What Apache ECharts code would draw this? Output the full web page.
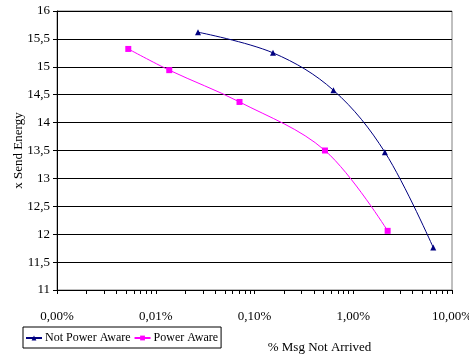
<!DOCTYPE html>
<html>
<head>
<meta charset="utf-8">
<script src="https://cdn.jsdelivr.net/npm/echarts@6/dist/echarts.min.js"></script>
<style>
  html, body { margin: 0; padding: 0; background: #fff; }
  #chart { width: 469px; height: 355px; }
</style>
</head>
<body>
<div id="chart"></div>
<script>
// % of messages not arrived (x) and send energy (y)
const notAwareX = [0.0268, 0.154, 0.63, 2.09, 6.46];
const notAwareY = [15.62, 15.25, 14.58, 13.47, 11.76];
const awareX = [0.00527, 0.0137, 0.0705, 0.517, 2.23];
const awareY = [15.32, 14.94, 14.37, 13.50, 12.06];

// log ticks: decades plus minor 2..9 (as log10 values for the tick axis)
const decades = [0.001, 0.01, 0.1, 1, 10];
const tickValues = [];
decades.forEach(function (d, i) {
  if (i === decades.length - 1) { tickValues.push(Math.log10(d)); return; }
  for (let k = 1; k <= 9; k++) tickValues.push(Math.log10(d * k));
});

const font = "'Liberation Serif', 'DejaVu Serif', serif";

let chart = echarts.init(document.getElementById('chart'));

const option = {
  backgroundColor: '#fff',
  animation: false,
  textStyle: { fontFamily: font, color: '#000' },
  grid: {
    left: 57, right: 17, top: 11, bottom: 65,
    outerBoundsMode: 'none',
    containLabel: false,
    show: true,
    borderColor: '#808080',
    borderWidth: 1
  },
  legend: {
    left: 23,
    top: 327,
    orient: 'horizontal',
    padding: [5, 3, 4, 2],
    itemGap: 3,
    itemWidth: 16,
    itemHeight: 6,
    borderColor: '#000',
    borderWidth: 1,
    textStyle: { fontFamily: font, fontSize: 12, color: '#000', padding: [0, 0, 0, -2] },
    data: ['Not Power Aware', 'Power Aware']
  },
  xAxis: [
    {
      type: 'log',
      logBase: 10,
      min: 0.001,
      max: 10,
      position: 'bottom',
      name: '% Msg Not Arrived',
      nameLocation: 'middle',
      nameGap: 51,
      nameMoveOverlap: false,
      nameTextStyle: { fontFamily: font, fontSize: 13, color: '#000', padding: [0, 0, 0, 130] },
      axisLine: { onZero: false, lineStyle: { color: '#000', width: 1 } },
      axisTick: { show: false },
      axisLabel: {
        fontFamily: font,
        fontSize: 13,
        color: '#000',
        margin: 20,
        formatter: function (v) { return v.toFixed(2).replace('.', ',') + '%'; }
      },
      splitLine: { show: false }
    },
    {
      // tick-only axis for the minor log ticks
      type: 'value',
      min: -3,
      max: 1,
      position: 'bottom',
      offset: 0,
      axisLine: { show: false, onZero: false },
      axisTick: {
        show: true,
        length: 4,
        customValues: tickValues,
        lineStyle: { color: '#000' }
      },
      axisLabel: { show: false },
      splitLine: { show: false }
    }
  ],
  yAxis: {
    type: 'value',
    min: 11,
    max: 16,
    interval: 0.5,
    name: 'x Send Energy',
    nameLocation: 'middle',
    nameGap: 32,
    nameMoveOverlap: false,
    nameTextStyle: { fontFamily: font, fontSize: 13, color: '#000' },
    axisLine: { show: true, onZero: false, lineStyle: { color: '#000', width: 1 } },
    axisTick: { show: true, length: 4, lineStyle: { color: '#000' } },
    axisLabel: {
      fontFamily: font,
      fontSize: 13,
      color: '#000',
      margin: 7,
      formatter: function (v) { return String(v).replace('.', ','); }
    },
    splitLine: { show: true, lineStyle: { color: '#000', width: 1 } }
  },
  series: [
    {
      name: 'Not Power Aware',
      type: 'line',
      xAxisIndex: 0,
      smooth: 0.35,
      data: notAwareX.map(function (x, i) { return [x, notAwareY[i]]; }),
      symbol: 'triangle',
      symbolSize: 6,
      itemStyle: { color: '#000080' },
      lineStyle: { color: '#000080', width: 1 }
    },
    {
      name: 'Power Aware',
      type: 'line',
      xAxisIndex: 0,
      smooth: 0.35,
      data: awareX.map(function (x, i) { return [x, awareY[i]]; }),
      symbol: 'rect',
      symbolSize: 6,
      itemStyle: { color: '#FF00FF' },
      lineStyle: { color: '#FF00FF', width: 1 }
    }
  ]
};

chart.setOption(option, true);
window.addEventListener('resize', chart.resize);
</script>
</body>
</html>
